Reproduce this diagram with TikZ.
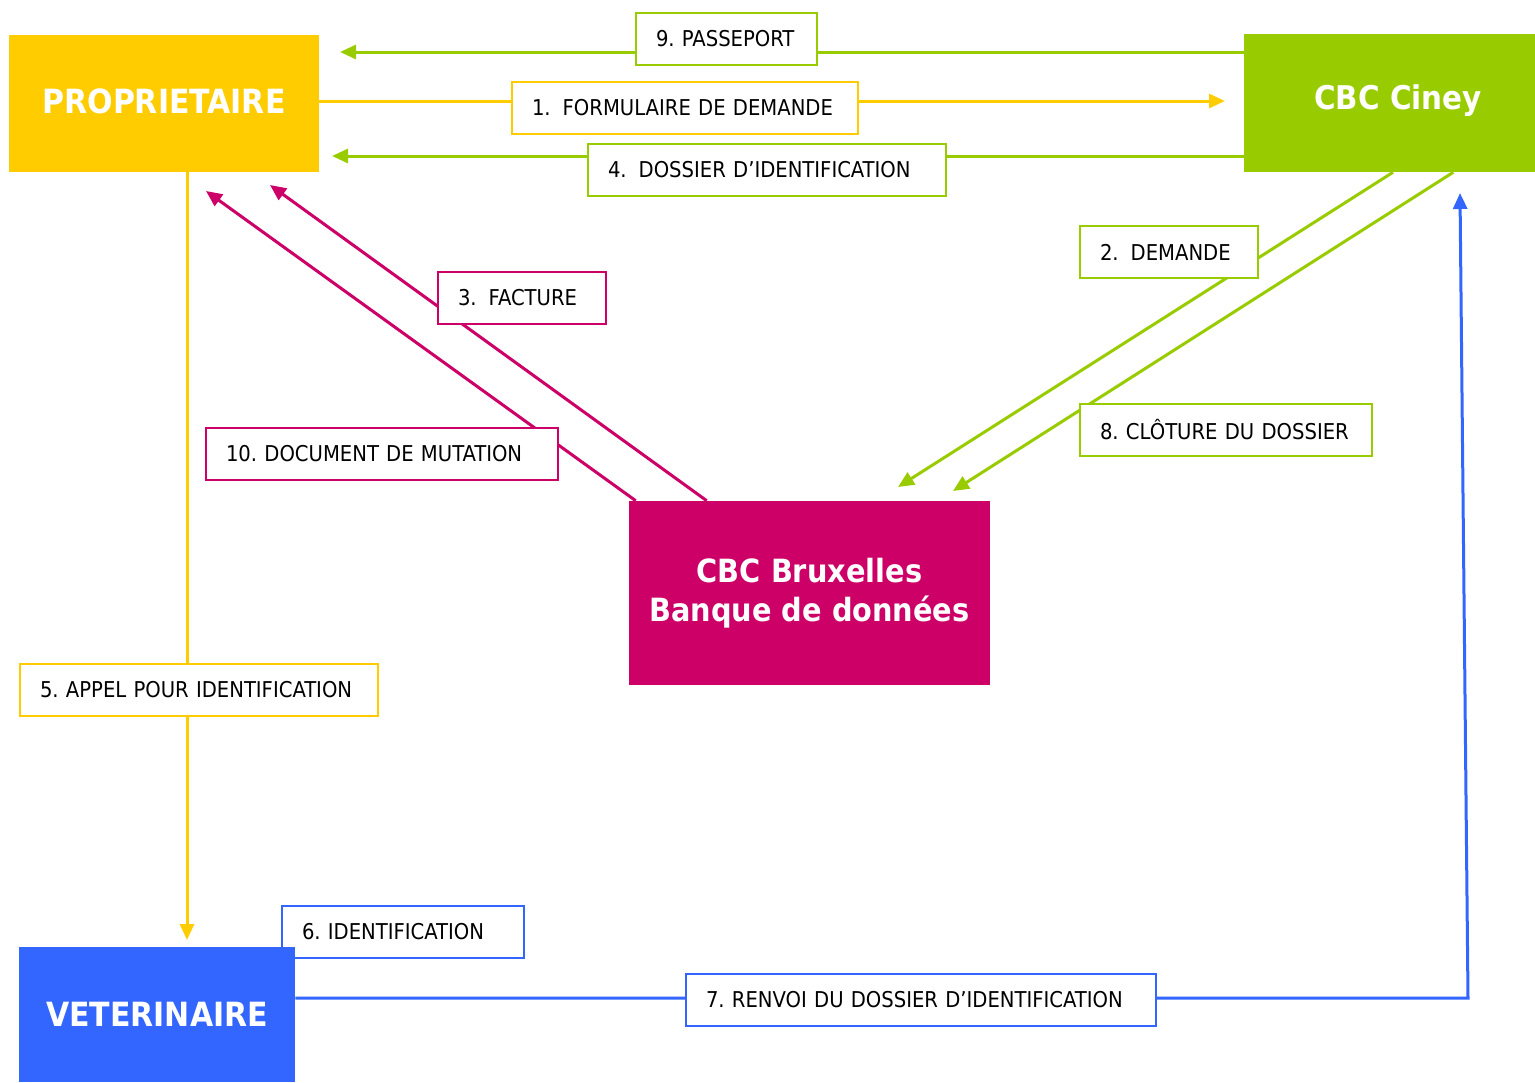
\documentclass[tikz,border=0pt]{standalone}
\usepackage{fontspec}
\setmainfont{DejaVu Sans Condensed}
\usepackage{xcolor}
\usetikzlibrary{arrows.meta}
\frenchspacing

\definecolor{cYellow}{RGB}{255,204,0}
\definecolor{cGreen}{RGB}{153,204,0}
\definecolor{cMagenta}{RGB}{204,0,102}
\definecolor{cBlue}{RGB}{51,102,255}

\tikzset{
  mainbox/.style={fill=#1, text=white, inner sep=0pt, align=center,
    font=\fontsize{25}{29.25}\selectfont\bfseries},
  lbl/.style={draw=#1, fill=white, line width=1.5pt, inner xsep=15pt, inner ysep=0pt,
    minimum height=39pt, align=left, font=\fontsize{16.35}{19}\selectfont},
  conn/.style={draw=#1, line width=2.25pt, -{Triangle[length=12pt,width=10.5pt]}},
}

\begin{document}
\begin{tikzpicture}[x=0.75pt,y=0.75pt,yscale=-1,xscale=1]
\useasboundingbox (0,0) rectangle (1535,1082);
%Shapes: main boxes
\node [mainbox=cYellow, minimum width=232.5pt, minimum height=102.75pt] (prop) at (164,103.5) {};
\node [font=\fontsize{25}{29.25}\selectfont\bfseries, text=white] at (164,101) {PROPRIETAIRE};
\node [mainbox=cGreen, minimum width=218.25pt, minimum height=103.5pt] (ciney) at (1389.5,103) {};
\node [font=\fontsize{24.5}{29.25}\selectfont\bfseries, text=white] at (1398,101) {CBC Ciney};
\node [mainbox=cMagenta, minimum width=270.75pt, minimum height=138pt,
  font=\fontsize{24}{29.25}\selectfont\bfseries] (brux) at (809.5,593) {CBC Bruxelles\\Banque de données};
% Text Node (under the vet box)
\node [lbl=cBlue, text width=151.5pt] (ident) at (403,932) {6. IDENTIFICATION};
\node [mainbox=cBlue, minimum width=207pt, minimum height=101.25pt] (vet) at (157,1014.5) {VETERINAIRE};

%Straight Lines: arrow ends
\coordinate (passTip) at (340,52);
\coordinate (formTip) at (1225,101);
\coordinate (dossTip) at (332,156);
\coordinate (demTip) at (898,487);
\coordinate (clotTip) at (953,491);
\coordinate (factTip) at (270,185);
\coordinate (mutTip) at (206,191);
\coordinate (appelTip) at (187,940);
\coordinate (renvoiCorner) at (1468,998);
\coordinate (renvoiTip) at (1460,193);

\draw [conn=cGreen] (ciney.west |- passTip) -- (passTip);
\draw [conn=cYellow] (prop.east |- formTip) -- (formTip);
\draw [conn=cGreen] (ciney.west |- dossTip) -- (dossTip);
\draw [conn=cGreen] ([xshift=2.6pt]ciney.south) -- (demTip);
\draw [conn=cGreen] ([xshift=-61.5pt]ciney.south east) -- (clotTip);
\draw [conn=cMagenta] ([xshift=58.5pt]brux.north west) -- (factTip);
\draw [conn=cMagenta] ([xshift=5.25pt]brux.north west) -- (mutTip);
\draw [conn=cYellow] (prop.south -| appelTip) -- (appelTip);
\draw [conn=cBlue] (vet.east |- renvoiCorner) -- (renvoiCorner) -- (renvoiTip);

% Text Node
\node [lbl=cGreen, text width=105.75pt] (pass) at (726.5,39) {9. PASSEPORT};
% Text Node
\node [lbl=cYellow, text width=229.5pt] (form) at (685,108) {1.\hspace{0.55em}FORMULAIRE DE DEMANDE};
% Text Node
\node [lbl=cGreen, text width=238.5pt] (doss) at (767,170) {4.\hspace{0.55em}DOSSIER D’IDENTIFICATION};
% Text Node
\node [lbl=cGreen, text width=103.5pt] (dem) at (1169,252) {2.\hspace{0.55em}DEMANDE};
% Text Node
\node [lbl=cMagenta, text width=96pt] (fact) at (522,298) {3.\hspace{0.55em}FACTURE};
% Text Node
\node [lbl=cMagenta, text width=234pt] (mut) at (382,454) {10. DOCUMENT DE MUTATION};
% Text Node
\node [lbl=cGreen, text width=189pt] (clot) at (1226,429.5) {8. CLÔTURE DU DOSSIER};
% Text Node
\node [lbl=cYellow, text width=238.5pt] (appel) at (199,689.5) {5. APPEL POUR IDENTIFICATION};
% Text Node
\node [lbl=cBlue, text width=322.5pt] (renvoi) at (921,999.5) {7. RENVOI DU DOSSIER D’IDENTIFICATION};

\end{tikzpicture}
\end{document}
